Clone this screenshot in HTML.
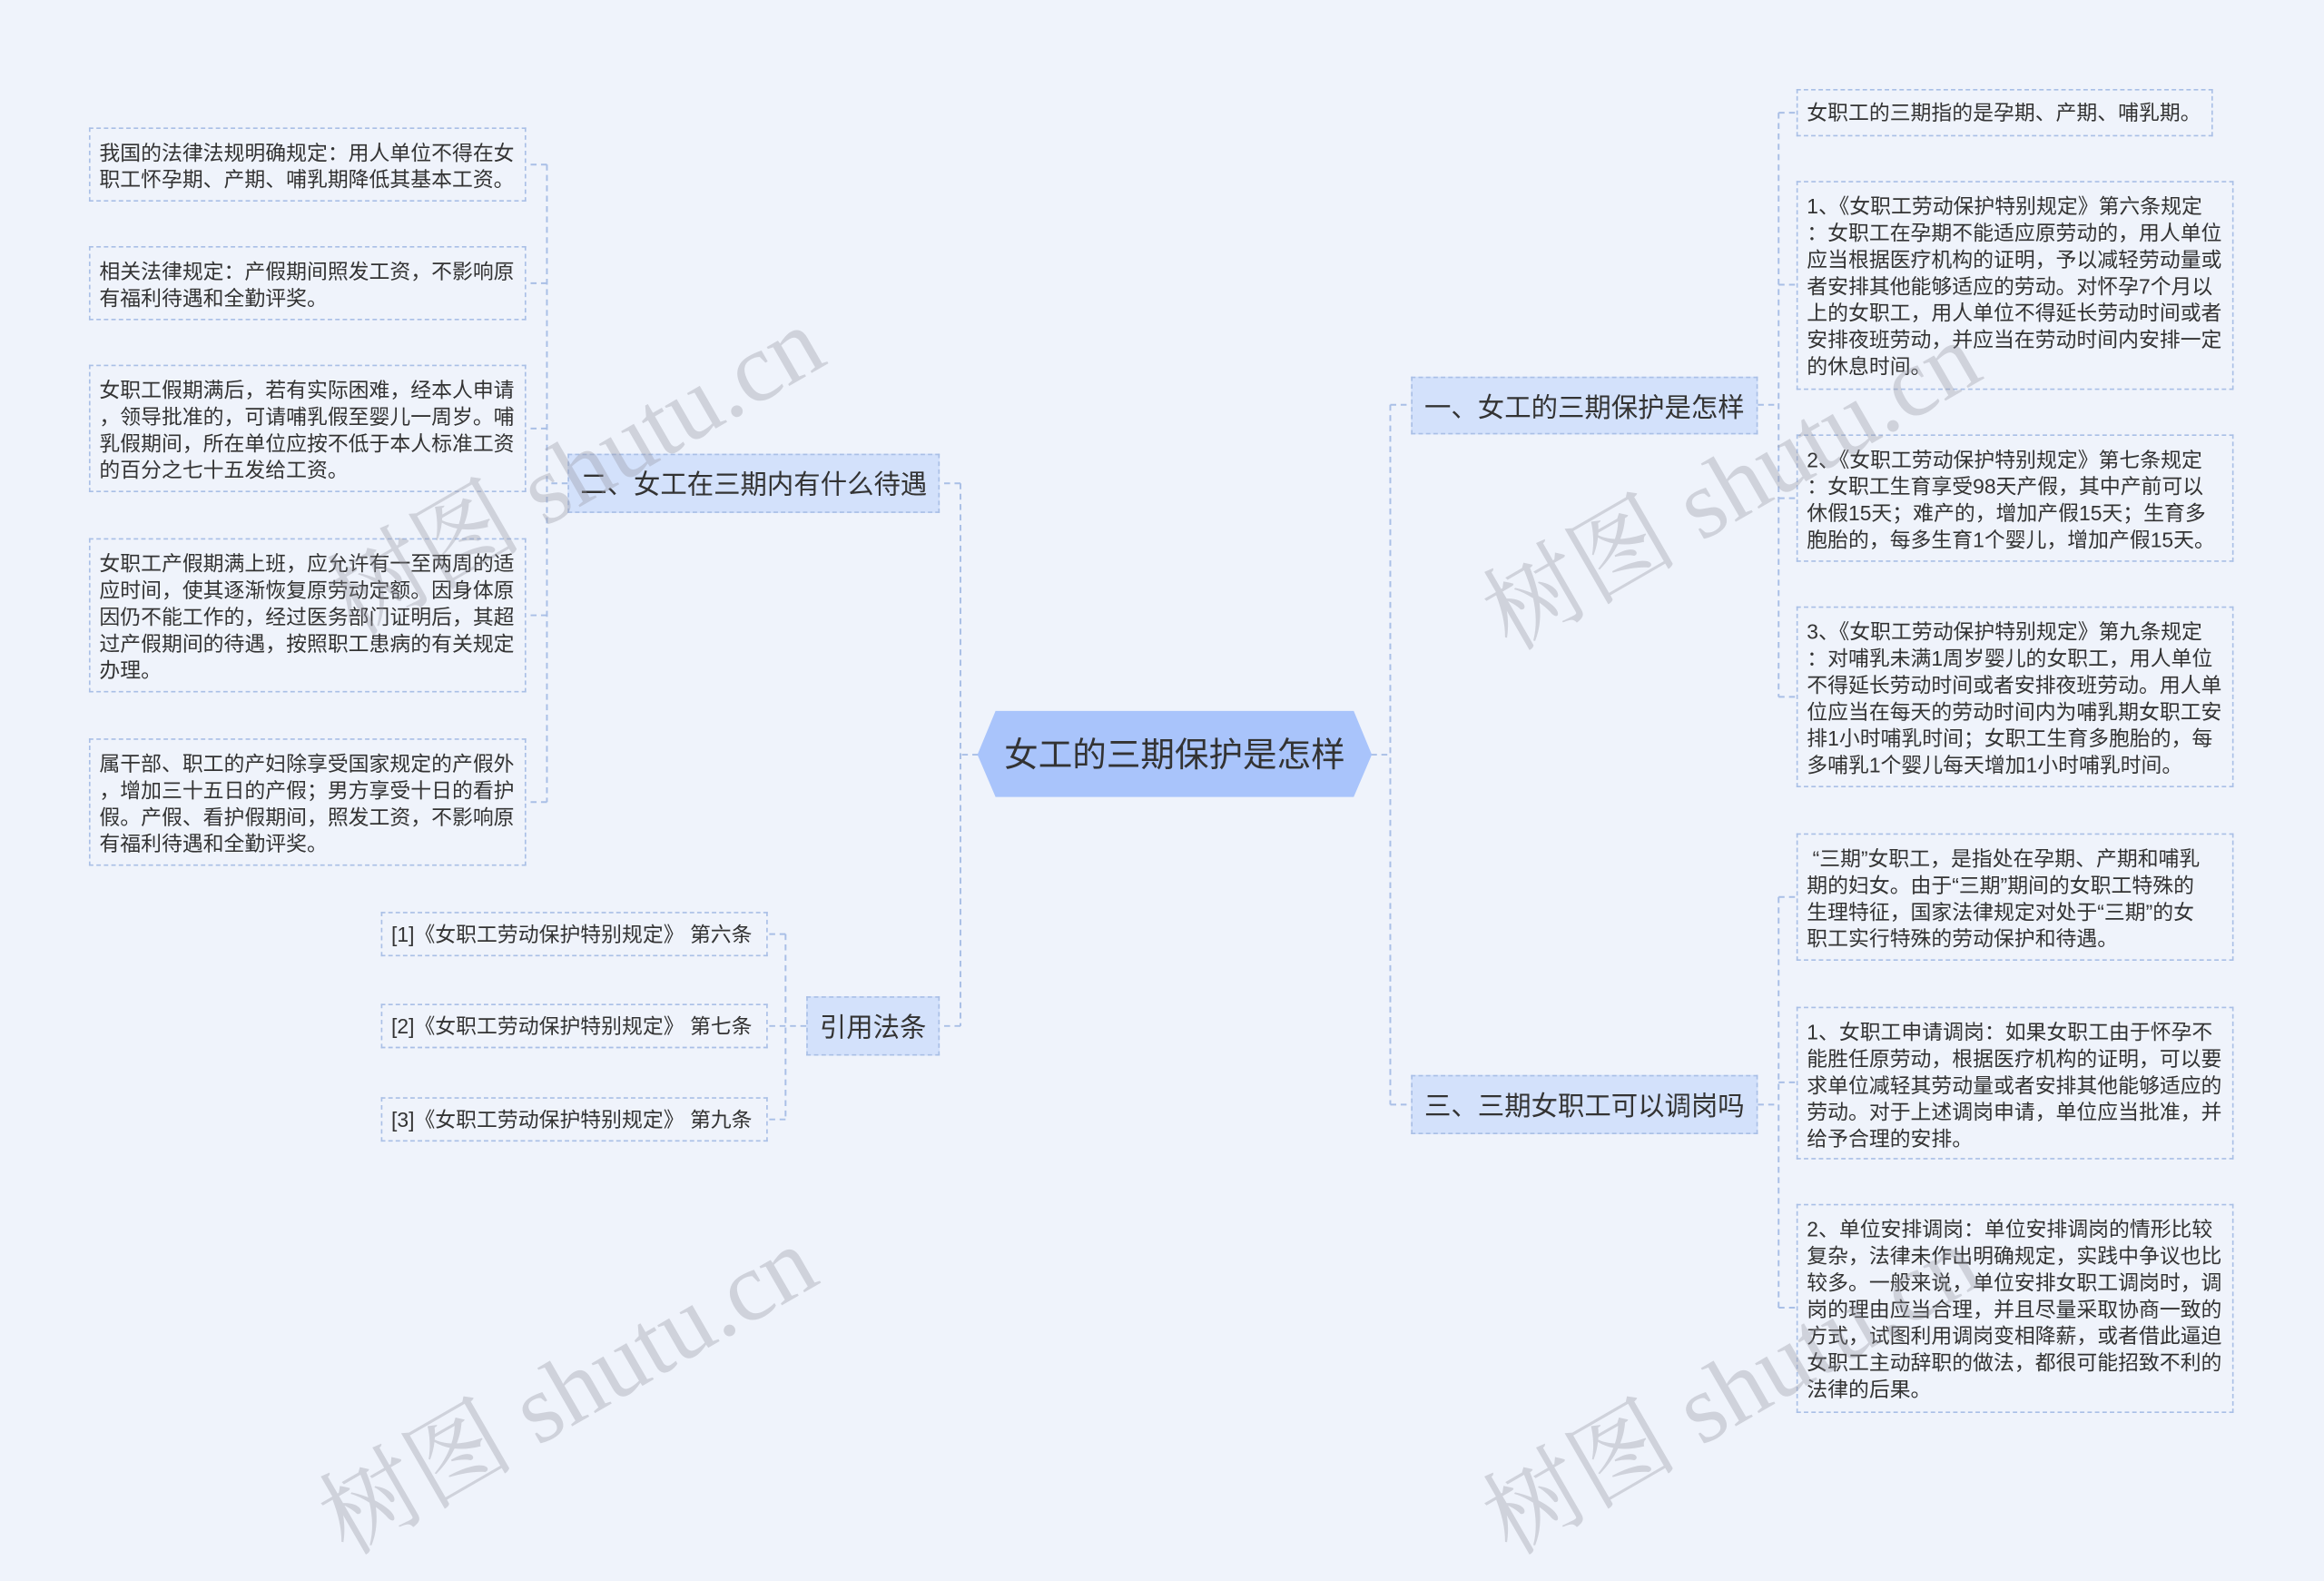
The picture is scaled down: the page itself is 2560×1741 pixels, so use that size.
<!DOCTYPE html>
<html><head><meta charset="utf-8">
<style>
html,body{margin:0;padding:0;background:#eff3fb;}
body{width:2560px;height:1655px;overflow:hidden;position:relative;}
#c{position:absolute;left:0;top:0;width:1568px;height:1014px;transform:scale(1.6327);transform-origin:0 0;font-family:"Liberation Sans","Noto Sans CJK SC",sans-serif;color:#333;}
.leaf{position:absolute;box-sizing:border-box;border:1px dashed #a9bfe6;font-size:14px;line-height:18px;padding:7px 6px;color:#333;white-space:nowrap;}
.br{position:absolute;box-sizing:border-box;background:#d3e1fb;border:1px dashed #a9bfe6;font-size:18px;display:flex;align-items:center;justify-content:center;color:#333;}
.wm{position:absolute;font-size:66px;color:rgba(150,150,160,0.35);transform:rotate(-30deg);white-space:nowrap;font-family:"Liberation Serif","Noto Serif CJK SC",serif;}
svg{position:absolute;left:0;top:0;}
</style></head><body><div id="c">
<svg width="1568" height="1014">
<g stroke="#a9bfe6" stroke-width="1.2" fill="none" stroke-dasharray="4,3">
<path d="M660 509 H648 M648 326 V692 M648 326 H634 M648 692 H634"/>
<path d="M925 509 H938 M938 273 V745 M938 273 H952 M938 745 H952"/>
<path d="M1186 273 H1200 M1200 76 V470 M1200 76 H1212 M1200 192 H1212 M1200 336 H1212 M1200 470 H1212"/>
<path d="M1186 745 H1200 M1200 605 V882 M1200 605 H1212 M1200 730 H1212 M1200 882 H1212"/>
<path d="M383 326 H369 M369 111 V541 M369 111 H355 M369 191 H355 M369 289 H355 M369 415 H355 M369 541 H355"/>
<path d="M544 692 H530 M530 630 V755 M530 630 H518 M530 692 H518 M530 755 H518"/>
</g>
<polygon points="660,509 672,480 913,480 925,509 913,537 672,537" fill="#a9c4fb" stroke="#a9c4fb"/>
<text x="792.5" y="517" font-size="23" text-anchor="middle" fill="#333" font-family="Liberation Sans, Noto Sans CJK SC, sans-serif">女工的三期保护是怎样</text>
</svg>

<div class="br" style="left:952px;top:254px;width:234px;height:39px;">一、女工的三期保护是怎样</div>
<div class="br" style="left:952px;top:725px;width:234px;height:40px;">三、三期女职工可以调岗吗</div>
<div class="br" style="left:383px;top:306px;width:251px;height:40px;">二、女工在三期内有什么待遇</div>
<div class="br" style="left:544px;top:672px;width:90px;height:40px;">引用法条</div>

<div class="leaf" style="left:60px;top:86px;width:295px;height:50px;">我国的法律法规明确规定：用人单位不得在女<br>职工怀孕期、产期、哺乳期降低其基本工资。</div>
<div class="leaf" style="left:60px;top:166px;width:295px;height:50px;">相关法律规定：产假期间照发工资，不影响原<br>有福利待遇和全勤评奖。</div>
<div class="leaf" style="left:60px;top:246px;width:295px;height:86px;">女职工假期满后，若有实际困难，经本人申请<br>，领导批准的，可请哺乳假至婴儿一周岁。哺<br>乳假期间，所在单位应按不低于本人标准工资<br>的百分之七十五发给工资。</div>
<div class="leaf" style="left:60px;top:363px;width:295px;height:104px;">女职工产假期满上班，应允许有一至两周的适<br>应时间，使其逐渐恢复原劳动定额。因身体原<br>因仍不能工作的，经过医务部门证明后，其超<br>过产假期间的待遇，按照职工患病的有关规定<br>办理。</div>
<div class="leaf" style="left:60px;top:498px;width:295px;height:86px;">属干部、职工的产妇除享受国家规定的产假外<br>，增加三十五日的产假；男方享受十日的看护<br>假。产假、看护假期间，照发工资，不影响原<br>有福利待遇和全勤评奖。</div>

<div class="leaf" style="left:257px;top:615px;width:261px;height:30px;padding-top:5px;">[1]《女职工劳动保护特别规定》 第六条</div>
<div class="leaf" style="left:257px;top:677px;width:261px;height:30px;padding-top:5px;">[2]《女职工劳动保护特别规定》 第七条</div>
<div class="leaf" style="left:257px;top:740px;width:261px;height:30px;padding-top:5px;">[3]《女职工劳动保护特别规定》 第九条</div>

<div class="leaf" style="left:1212px;top:60px;width:281px;height:32px;padding-top:6px;">女职工的三期指的是孕期、产期、哺乳期。</div>
<div class="leaf" style="left:1212px;top:122px;width:295px;height:141px;">1、《女职工劳动保护特别规定》第六条规定<br>：女职工在孕期不能适应原劳动的，用人单位<br>应当根据医疗机构的证明，予以减轻劳动量或<br>者安排其他能够适应的劳动。对怀孕7个月以<br>上的女职工，用人单位不得延长劳动时间或者<br>安排夜班劳动，并应当在劳动时间内安排一定<br>的休息时间。</div>
<div class="leaf" style="left:1212px;top:293px;width:295px;height:86px;">2、《女职工劳动保护特别规定》第七条规定<br>：女职工生育享受98天产假，其中产前可以<br>休假15天；难产的，增加产假15天；生育多<br>胞胎的，每多生育1个婴儿，增加产假15天。</div>
<div class="leaf" style="left:1212px;top:409px;width:295px;height:122px;">3、《女职工劳动保护特别规定》第九条规定<br>：对哺乳未满1周岁婴儿的女职工，用人单位<br>不得延长劳动时间或者安排夜班劳动。用人单<br>位应当在每天的劳动时间内为哺乳期女职工安<br>排1小时哺乳时间；女职工生育多胞胎的，每<br>多哺乳1个婴儿每天增加1小时哺乳时间。</div>
<div class="leaf" style="left:1212px;top:562px;width:295px;height:86px;">&nbsp;“三期”女职工，是指处在孕期、产期和哺乳<br>期的妇女。由于“三期”期间的女职工特殊的<br>生理特征，国家法律规定对处于“三期”的女<br>职工实行特殊的劳动保护和待遇。</div>
<div class="leaf" style="left:1212px;top:679px;width:295px;height:103px;">1、女职工申请调岗：如果女职工由于怀孕不<br>能胜任原劳动，根据医疗机构的证明，可以要<br>求单位减轻其劳动量或者安排其他能够适应的<br>劳动。对于上述调岗申请，单位应当批准，并<br>给予合理的安排。</div>
<div class="leaf" style="left:1212px;top:812px;width:295px;height:141px;">2、单位安排调岗：单位安排调岗的情形比较<br>复杂，法律未作出明确规定，实践中争议也比<br>较多。一般来说，单位安排女职工调岗时，调<br>岗的理由应当合理，并且尽量采取协商一致的<br>方式，试图利用调岗变相降薪，或者借此逼迫<br>女职工主动辞职的做法，都很可能招致不利的<br>法律的后果。</div>

<div class="wm" style="left:200px;top:265px;">树图 shutu.cn</div>
<div class="wm" style="left:195px;top:885px;">树图 shutu.cn</div>
<div class="wm" style="left:980px;top:275px;">树图 shutu.cn</div>
<div class="wm" style="left:980px;top:885px;">树图 shutu.cn</div>
</div></body></html>
